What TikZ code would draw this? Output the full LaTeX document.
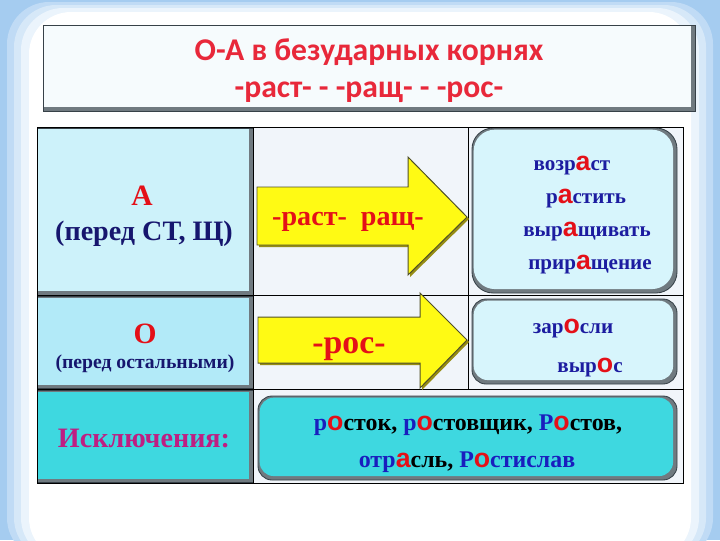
\documentclass[tikz,border=0pt]{standalone}
\usepackage{fontspec}
\setmainfont{Liberation Serif}
\setsansfont{Liberation Sans}
\newfontfamily\titlefont{Carlito}
\newfontfamily\boldserif{Liberation Serif Bold}
\definecolor{bgblue}{RGB}{165,204,240}
\definecolor{titlefill}{RGB}{246,251,253}
\definecolor{midfill}{RGB}{241,245,250}
\definecolor{afill}{RGB}{205,242,250}
\definecolor{ofill}{RGB}{178,234,248}
\definecolor{exfill}{RGB}{62,216,224}
\definecolor{wordfill}{RGB}{215,245,252}
\definecolor{bevelgray}{RGB}{112,122,128}
\definecolor{edgegray}{RGB}{55,65,72}
\definecolor{titlered}{RGB}{232,40,58}
\definecolor{vowelred}{RGB}{228,16,24}
\definecolor{navy}{RGB}{22,22,110}
\definecolor{wordblue}{RGB}{28,28,160}
\definecolor{exblue}{RGB}{25,30,190}
\definecolor{exmag}{RGB}{190,30,130}
\definecolor{arrowyel}{RGB}{255,250,20}
\definecolor{arrowedge}{RGB}{80,80,40}
\definecolor{arrowshade}{RGB}{150,140,20}
\newcommand{\pxu}{0.025cm}
\newcommand{\vw}[1]{{\sffamily\bfseries\fontsize{19}{19}\selectfont\color{vowelred}#1}}
\newcommand{\eb}[1]{{\color{exblue}#1}}
\begin{document}
\begin{tikzpicture}[x=0.025cm, y=-0.025cm,
  bevelbox/.style={fill=bevelgray, draw=edgegray, line width=0.5pt, inner sep=0pt,
    path picture={\fill[#1] ([xshift=0.8pt,yshift=-0.8pt]path picture bounding box.north west)
      rectangle ([xshift=-2.8pt,yshift=2.8pt]path picture bounding box.south east);}},
  roundbox/.style 2 args={fill=bevelgray, draw=edgegray, line width=0.6pt, inner sep=0pt, rounded corners=#2,
    path picture={\fill[#1, rounded corners=#2] ([xshift=1.2pt,yshift=-1.2pt]path picture bounding box.north west)
      rectangle ([xshift=-2.8pt,yshift=2.8pt]path picture bounding box.south east);}},
  ttl/.style={font=\titlefont\bfseries\fontsize{22.5}{26}\selectfont, text=titlered, anchor=base},
  redcap/.style={font=\boldserif\fontsize{21}{24}\selectfont, text=vowelred, anchor=base},
  word/.style={font=\boldserif\fontsize{15}{18}\selectfont, text=wordblue, anchor=base, inner sep=0pt},
  arrowbody/.style={fill=arrowyel, draw=arrowedge, line width=0.7pt, line join=miter},
  grid/.style={draw=black, line width=0.6pt}]
\useasboundingbox (0,0) rectangle (720,540);
% soft slide frame
\fill[bgblue] (0,0) rectangle (720,540);
\fill[bgblue!70!white, rounded corners=30pt] (7,2) rectangle (713,560);
\fill[bgblue!45!white, rounded corners=30pt] (14,5) rectangle (706,560);
\fill[bgblue!22!white, rounded corners=30pt] (21,8) rectangle (699,560);
\fill[white, rounded corners=30pt] (29,12) rectangle (691,560);
% title
\node[bevelbox=titlefill, minimum width=652*\pxu, minimum height=86*\pxu] (ttlbox) at (369,68) {};
\node[ttl] (ttl1) at (369,60) {О-А в безударных корнях};
\node[ttl] (ttl2) at (369,97) {-раст- - -ращ- - -рос-};
% table
\fill[midfill] (37,127) rectangle (683,483);
\node[bevelbox=afill, minimum width=216*\pxu, minimum height=167*\pxu] (abox) at (145,211.5) {};
\node[bevelbox=ofill, minimum width=216*\pxu, minimum height=92*\pxu] (obox) at (145,342.5) {};
\node[bevelbox=exfill, minimum width=216*\pxu, minimum height=92*\pxu] (exbox) at (145,436.5) {};
\node[roundbox={wordfill}{15pt}, minimum width=205*\pxu, minimum height=165*\pxu] (abox2) at (574.5,210.5) {};
\node[roundbox={wordfill}{10pt}, minimum width=205*\pxu, minimum height=85*\pxu] (obox2) at (574.5,341.5) {};
\node[roundbox={exfill}{10pt}, minimum width=419*\pxu, minimum height=84*\pxu] (exbox2) at (467.5,438) {};
\draw[grid] (37,127) rectangle (683,483);
\draw[grid] (253,127) -- (253,483) (468,127) -- (468,389);
\draw[grid] (37,295) -- (683,295) (37,389) -- (683,389);
% arrows
\fill[arrowshade] (259,189) -- (410,189) -- (410,159) -- (469,219) -- (410,277) -- (410,247) -- (259,247) -- cycle;
\draw[arrowbody] (257,187) -- (408,187) -- (408,157) -- (467,217) -- (408,275) -- (408,245) -- (257,245) -- cycle;
\fill[arrowshade] (260,319) -- (422,319) -- (422,295) -- (469,342) -- (422,390) -- (422,365) -- (260,365) -- cycle;
\draw[arrowbody] (258,317) -- (420,317) -- (420,293) -- (467,340) -- (420,388) -- (420,363) -- (258,363) -- cycle;
\node[redcap, font=\boldserif\fontsize{20}{24}\selectfont] (rasttxt) at (348,225) {-раст-~ ращ-};
\node[redcap, font=\boldserif\fontsize{24}{28}\selectfont] (rostxt) at (349,353) {-рос-};
% left column
\node[redcap] (capA) at (142,205) {А};
\node[redcap, text=navy, font=\boldserif\fontsize{20}{24}\selectfont] (noteA) at (144,240) {(перед СТ, Щ)};
\node[redcap] (capO) at (145,343) {О};
\node[redcap, text=navy, font=\boldserif\fontsize{14}{17}\selectfont] (noteO) at (145,368) {(перед остальными)};
\node[redcap, text=exmag, font=\boldserif\fontsize{20}{24}\selectfont] (excl) at (144,447) {Исключения:};
% words
\node[word] (w1) at (572,170) {возр\vw{а}ст};
\node[word] (w2) at (586,203) {р\vw{а}стить};
\node[word] (w3) at (587,236) {выр\vw{а}щивать};
\node[word] (w4) at (590,269) {прир\vw{а}щение};
\node[word] (w5) at (573,333) {зар\vw{о}сли};
\node[word] (w6) at (590,372) {выр\vw{о}с};
\node[word, text=black, font=\boldserif\fontsize{17}{20}\selectfont] (ex1) at (468,430) {\eb{р}\vw{о}сток, \eb{р}\vw{о}стовщик, \eb{Р}\vw{о}стов,};
\node[word, text=black, font=\boldserif\fontsize{17}{20}\selectfont] (ex2) at (467,467) {\eb{отр}\vw{а}сль, \eb{Р}\vw{о}\eb{стислав}};
\end{tikzpicture}
\end{document}
